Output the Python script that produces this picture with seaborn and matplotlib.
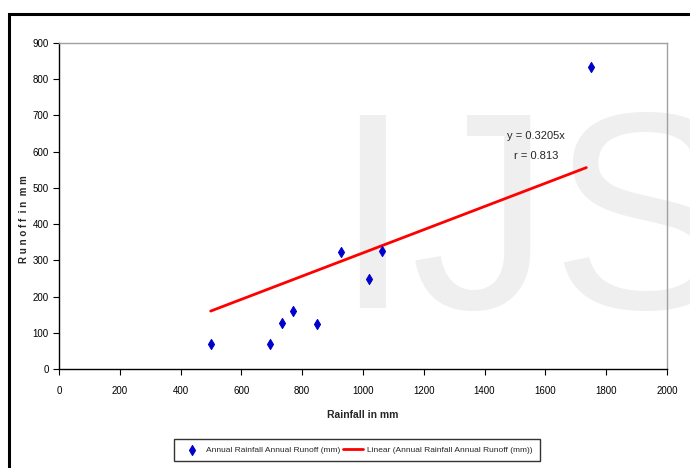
import numpy as np
import pandas as pd
import matplotlib
matplotlib.use('Agg')
import matplotlib.pyplot as plt
import seaborn as sns
from matplotlib.patches import Rectangle

# Annual rainfall vs annual runoff (mm)
rainfall = [499, 694, 735, 771, 848, 928, 1021, 1064, 1749]
runoff = [69, 69, 127, 159, 123, 322, 248, 326, 834]
slope = 0.3205
r_value = 0.813

df = pd.DataFrame({'Rainfall': rainfall, 'Runoff': runoff})
trend = pd.DataFrame({'Rainfall': [min(rainfall), 1735]})
trend['Runoff'] = slope * trend['Rainfall']

sns.set_style('white')
plt.rcParams['font.family'] = ['Liberation Sans Narrow', 'Liberation Sans', 'DejaVu Sans']

fig = plt.figure(figsize=(6.9, 4.68), dpi=100)
ax = fig.add_axes([0.0855, 0.2115, 0.881, 0.6966])
ax.patch.set_alpha(0)

# watermark behind the plot
fig.text(0.483, 0.342, 'IJS', fontsize=202, color='#efefef', ha='left', va='baseline',
         family=['Liberation Sans', 'DejaVu Sans'], zorder=-5)

# outer frame
fig.patches.append(Rectangle((8.5 / 690, -0.1), 1.1, 1.1 - 14 / 468, transform=fig.transFigure,
                             fill=False, edgecolor='black', linewidth=2.2, zorder=1))

sns.scatterplot(data=df, x='Rainfall', y='Runoff', ax=ax, marker='d', color='#0000cc',
                s=26, edgecolor='#0000cc', linewidth=0.8, zorder=3,
                label='Annual Rainfall Annual Runoff (mm)')
sns.lineplot(data=trend, x='Rainfall', y='Runoff', ax=ax, color='red', linewidth=2,
             label='Linear (Annual Rainfall Annual Runoff (mm))', zorder=2)

ax.set_xlim(0, 2000)
ax.set_ylim(0, 900)
ax.set_xticks(np.arange(0, 2001, 200))
ax.set_yticks(np.arange(0, 901, 100))
ax.tick_params(axis='both', labelsize=7, length=4, width=0.8, direction='out',
               bottom=True, left=True, colors='black')
ax.tick_params(axis='x', pad=8)
for s in ['left', 'bottom']:
    ax.spines[s].set_color('black')
    ax.spines[s].set_linewidth(1)
for s in ['top', 'right']:
    ax.spines[s].set_color('#a0a0a0')
    ax.spines[s].set_linewidth(1)

ax.set_xlabel('Rainfall in mm', fontsize=7.5, fontweight='bold', labelpad=10)
ax.set_ylabel('R u n o f f  i n  m m', fontsize=7, fontweight='bold')
ax.yaxis.set_label_coords(-0.05, 0.46)

ax.text(1570, 642, 'y = 0.3205x', fontsize=8, ha='center', va='center')
ax.text(1570, 588, 'r = %.3f' % r_value, fontsize=8, ha='center', va='center')

leg = ax.legend(loc='center', bbox_to_anchor=(357 / 690, 1 - 450 / 468),
                bbox_transform=fig.transFigure, ncol=2, fontsize=6, frameon=True,
                fancybox=False, edgecolor='black', handlelength=2.5, columnspacing=0.3,
                handletextpad=0.4, borderpad=0.9)
leg.get_frame().set_linewidth(1)

fig.savefig('out.png', dpi=100)
